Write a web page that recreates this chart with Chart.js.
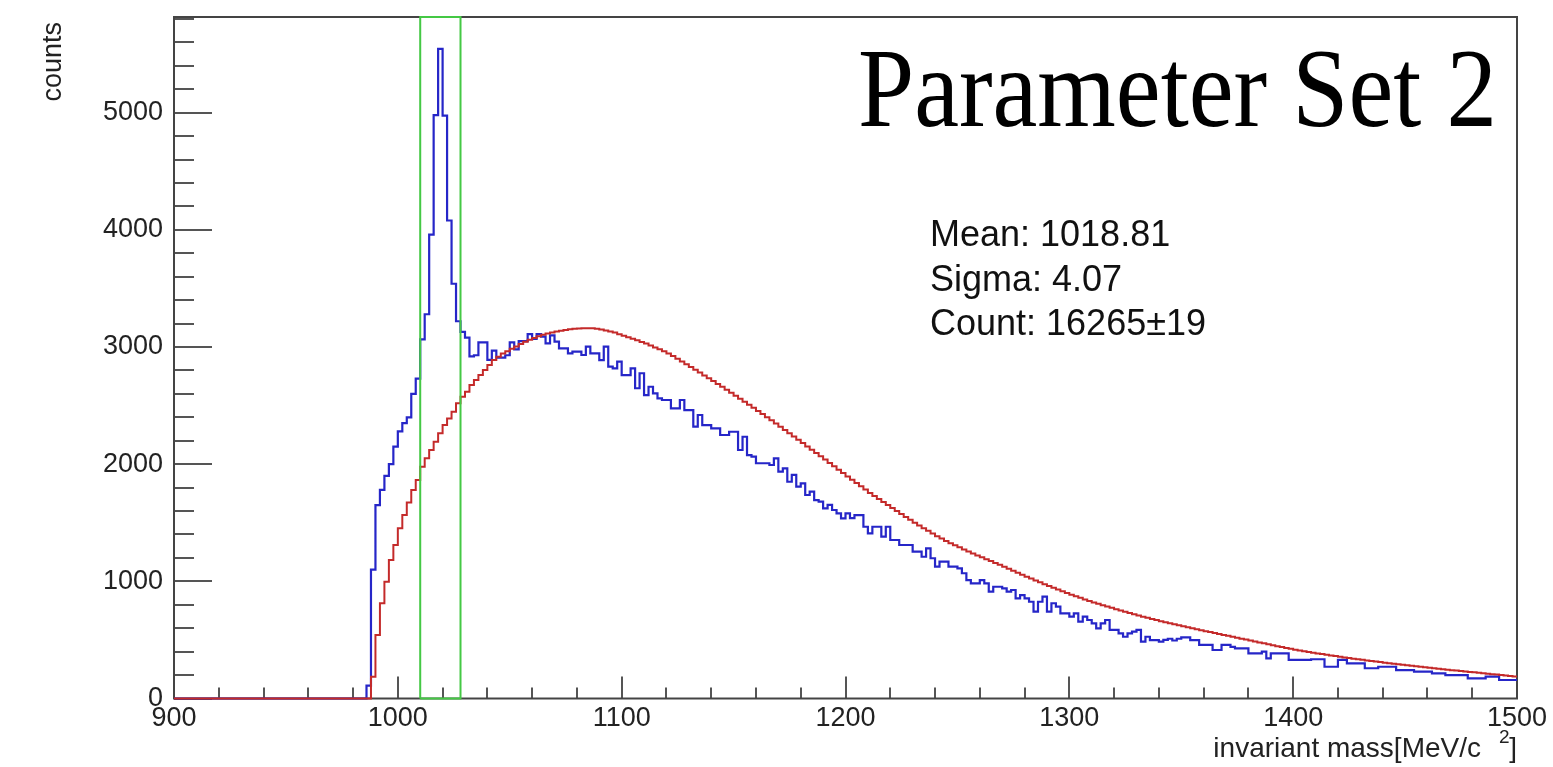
<!DOCTYPE html>
<html>
<head>
<meta charset="utf-8">
<script src="https://cdn.jsdelivr.net/npm/chart.js@4.4.1/dist/chart.umd.min.js"></script>
<style>
  html, body { margin: 0; padding: 0; background: #fff; }
  canvas { display: block; }
</style>
</head>
<body>
<canvas id="massChart" width="1553" height="767"></canvas>
<script>
// histogram bins: 2 MeV wide, first bin starts at 900
const binStart = 900;
const binWidth = 2;

// measured (blue) counts per bin, 10 bins per row
const measuredCounts = [
  0, 0, 0, 0, 0, 0, 0, 0, 0, 0,                          // 900
  0, 0, 0, 0, 0, 0, 0, 0, 0, 0,                          // 920
  0, 0, 0, 0, 0, 0, 0, 0, 0, 0,                          // 940
  0, 0, 0, 0, 0, 0, 0, 0, 0, 0,                          // 960
  0, 0, 0, 110, 1100, 1650, 1780, 1900, 2000, 2150,      // 980
  2280, 2350, 2400, 2600, 2730, 3065, 3280, 3960, 4980, 5545, // 1000
  4975, 4080, 3540, 3220, 3130, 3080, 2920, 2930, 3040, 3040, // 1020
  2890, 2970, 2910, 2910, 2930, 3040, 2980, 3050, 3050, 3110, // 1040
  3070, 3110, 3088, 3032, 3100, 3046, 2989, 2989, 2946, 2960, // 1060
  2960, 2932, 3003, 2946, 2946, 2889, 3003, 2832, 2818, 2875, // 1080
  2761, 2761, 2818, 2648, 2776, 2590, 2661, 2605, 2562, 2548, // 1100
  2548, 2477, 2477, 2548, 2462, 2462, 2320, 2420, 2334, 2334, // 1120
  2306, 2306, 2249, 2249, 2277, 2277, 2121, 2234, 2078, 2064, // 1140
  2008, 2008, 2008, 1993, 2050, 1936, 1965, 1850, 1908, 1808, // 1160
  1837, 1737, 1765, 1694, 1680, 1623, 1652, 1609, 1581, 1538, // 1180
  1581, 1540, 1566, 1566, 1466, 1410, 1466, 1466, 1381, 1466, // 1200
  1353, 1353, 1310, 1310, 1310, 1253, 1253, 1210, 1282, 1197, // 1220
  1125, 1168, 1168, 1125, 1125, 1111, 1069, 1011, 983, 983,   // 1240
  1011, 983, 912, 954, 954, 940, 912, 926, 855, 883,          // 1260
  855, 826, 741, 826, 869, 741, 813, 784, 727, 727,           // 1280
  698, 727, 656, 698, 670, 642, 599, 642, 670, 585,           // 1300
  585, 556, 527, 556, 570, 585, 485, 527, 499, 499,           // 1320
  485, 500, 510, 495, 510, 522, 522, 499, 499, 457,           // 1340
  457, 457, 414, 414, 457, 457, 440, 428, 428, 428,           // 1360
  386, 386, 386, 400, 343, 386, 386, 386, 386, 329,           // 1380
  329, 329, 329, 329, 335, 335, 335, 271, 271, 271,           // 1400
  329, 329, 300, 300, 300, 300, 258, 258, 258, 271,           // 1420
  271, 271, 271, 243, 243, 243, 243, 229, 229, 229,           // 1440
  229, 215, 215, 215, 200, 200, 200, 200, 200, 172,           // 1460
  172, 172, 172, 186, 186, 186, 158, 158, 158, 158            // 1480
];

// background (red) counts per bin
const backgroundCounts = [
  0, 0, 0, 0, 0, 0, 0, 0, 0, 0,                          // 900
  0, 0, 0, 0, 0, 0, 0, 0, 0, 0,                          // 920
  0, 0, 0, 0, 0, 0, 0, 0, 0, 0,                          // 940
  0, 0, 0, 0, 0, 0, 0, 0, 0, 0,                          // 960
  0, 0, 0, 0, 186, 542, 812, 997, 1182, 1310,            // 980
  1453, 1566, 1674, 1780, 1865, 1979, 2050, 2121, 2192, 2264, // 1000
  2334, 2391, 2448, 2520, 2576, 2619, 2676, 2719, 2761, 2804, // 1020
  2847, 2889, 2918, 2945, 2965, 2985, 3005, 3025, 3045, 3062, // 1040
  3078, 3092, 3104, 3115, 3125, 3133, 3140, 3146, 3151, 3155, // 1060
  3158, 3160, 3161, 3160, 3156, 3150, 3142, 3133, 3123, 3110, // 1080
  3097, 3083, 3070, 3057, 3044, 3030, 3014, 2997, 2980, 2963, // 1100
  2945, 2923, 2900, 2877, 2854, 2830, 2806, 2782, 2758, 2734, // 1120
  2710, 2685, 2660, 2635, 2610, 2585, 2559, 2533, 2507, 2481, // 1140
  2455, 2428, 2401, 2374, 2347, 2320, 2292, 2264, 2236, 2208, // 1160
  2180, 2152, 2124, 2096, 2068, 2040, 2011, 1982, 1953, 1924, // 1180
  1895, 1867, 1839, 1811, 1783, 1755, 1729, 1703, 1677, 1651, // 1200
  1625, 1600, 1575, 1550, 1525, 1500, 1477, 1454, 1431, 1408, // 1220
  1385, 1365, 1345, 1326, 1308, 1290, 1272, 1255, 1238, 1221, // 1240
  1205, 1189, 1173, 1157, 1141, 1125, 1108, 1091, 1074, 1057, // 1260
  1040, 1024, 1008, 992, 976, 960, 945, 930, 915, 900,        // 1280
  885, 872, 859, 846, 833, 820, 808, 797, 785, 774,           // 1300
  762, 751, 740, 729, 719, 708, 698, 689, 679, 670,           // 1320
  660, 651, 643, 634, 626, 617, 609, 600, 592, 583,           // 1340
  575, 567, 559, 551, 543, 535, 527, 519, 511, 503,           // 1360
  495, 487, 479, 471, 463, 455, 447, 439, 432, 424,           // 1380
  416, 410, 404, 397, 391, 385, 379, 373, 368, 362,           // 1400
  356, 351, 346, 340, 335, 330, 325, 320, 316, 311,           // 1420
  306, 301, 297, 292, 288, 283, 279, 275, 270, 266,           // 1440
  262, 258, 254, 250, 246, 242, 238, 234, 231, 227,           // 1460
  223, 219, 215, 212, 208, 204, 200, 196, 192, 188            // 1480
];

// signal window (green box)
const windowEdges = [1010, 1028];

// axes
const xMin = 900, xMax = 1500;
const yMin = 0, yMax = 5817;
const xTickLabels = [900, 1000, 1100, 1200, 1300, 1400, 1500];
const yTickLabels = [0, 1000, 2000, 3000, 4000, 5000];

const statLines = ['Mean: 1018.81', 'Sigma: 4.07', 'Count: 16265\u00b119'];
const plotTitle = 'Parameter Set 2';

function histPoints(counts) {
  const pts = counts.map((c, i) => ({ x: binStart + i * binWidth, y: c }));
  pts.push({ x: binStart + counts.length * binWidth, y: counts[counts.length - 1] });
  return pts;
}

const windowBox = [
  { x: windowEdges[0], y: yMin },
  { x: windowEdges[0], y: yMax },
  { x: windowEdges[1], y: yMax },
  { x: windowEdges[1], y: yMin },
  { x: windowEdges[0], y: yMin }
];

const sans = '"Liberation Sans", Arial, Helvetica, sans-serif';

// ROOT style frame + inner ticks, drawn under the histograms
const rootFrame = {
  id: 'rootFrame',
  beforeDatasetsDraw(chart) {
    const { ctx, chartArea: a, scales } = chart;
    const xs = scales.x, ys = scales.y;
    ctx.save();
    ctx.strokeStyle = '#555';
    ctx.lineWidth = 2;
    ctx.beginPath();
    for (let v = yMin; v <= yMax; v += 200) {
      const py = Math.round(ys.getPixelForValue(v));
      const len = v % 1000 === 0 ? 38 : 20;
      ctx.moveTo(a.left, py);
      ctx.lineTo(a.left + len, py);
    }
    for (let v = xMin; v <= xMax; v += 20) {
      const px = Math.round(xs.getPixelForValue(v));
      const len = v % 100 === 0 ? 22 : 11;
      ctx.moveTo(px, a.bottom);
      ctx.lineTo(px, a.bottom - len);
    }
    ctx.stroke();

    ctx.strokeStyle = '#444';
    ctx.strokeRect(a.left, a.top, a.right - a.left, a.bottom - a.top);
    ctx.restore();
  },
  afterDraw(chart) {
    const { ctx } = chart;
    ctx.save();

    // axis titles
    ctx.fillStyle = '#222';
    ctx.font = '28px ' + sans;
    ctx.textBaseline = 'alphabetic';
    ctx.textAlign = 'right';
    ctx.fillText('invariant mass[MeV/c', 1481, 757);
    ctx.fillText(']', 1517, 757);
    ctx.font = '19px ' + sans;
    ctx.textAlign = 'left';
    ctx.fillText('2', 1499, 743);

    ctx.save();
    ctx.translate(61, 22);
    ctx.rotate(-Math.PI / 2);
    ctx.font = '27px ' + sans;
    ctx.textAlign = 'right';
    ctx.fillText('counts', 0, 0);
    ctx.restore();

    // stat box text
    ctx.fillStyle = '#111';
    ctx.font = '36px ' + sans;
    ctx.textAlign = 'left';
    statLines.forEach((line, i) => ctx.fillText(line, 930, 246 + i * 44.5));

    // big title
    ctx.fillStyle = '#000';
    ctx.font = '113px "Liberation Serif", "Times New Roman", serif';
    const w = ctx.measureText(plotTitle).width;
    ctx.translate(858, 126);
    ctx.scale(639 / w, 1);
    ctx.fillText(plotTitle, 0, 0);

    ctx.restore();
  }
};

const plainLabel = v => String(v);

new Chart(document.getElementById('massChart'), {
  type: 'line',
  data: {
    datasets: [
      {
        label: 'window',
        data: windowBox,
        borderColor: '#44c844',
        borderWidth: 2,
        pointRadius: 0,
        fill: false,
        clip: false,
        order: 0
      },
      {
        label: 'background',
        data: histPoints(backgroundCounts),
        stepped: 'before',
        borderColor: '#c42a2a',
        borderWidth: 2,
        pointRadius: 0,
        fill: false,
        clip: false,
        order: 1
      },
      {
        label: 'measured',
        data: histPoints(measuredCounts),
        stepped: 'before',
        borderColor: '#2626c8',
        borderWidth: 2.2,
        pointRadius: 0,
        fill: false,
        clip: false,
        order: 2
      }
    ]
  },
  options: {
    responsive: false,
    devicePixelRatio: 1,
    animation: false,
    layout: { padding: { top: 17, right: 36, left: 0, bottom: 0 } },
    plugins: {
      legend: { display: false },
      tooltip: { enabled: false }
    },
    scales: {
      x: {
        type: 'linear',
        min: xMin,
        max: xMax,
        grid: { display: false, drawTicks: false },
        border: { display: false },
        ticks: {
          font: { family: sans, size: 27 },
          color: '#222',
          padding: 4,
          maxRotation: 0,
          autoSkip: false,
          callback: plainLabel
        },
        afterBuildTicks: s => { s.ticks = xTickLabels.map(v => ({ value: v })); },
        afterFit: s => { s.height = 68.5; s.paddingLeft = 0; s.paddingRight = 0; }
      },
      y: {
        type: 'linear',
        min: yMin,
        max: yMax,
        grid: { display: false, drawTicks: false },
        border: { display: false },
        ticks: {
          font: { family: sans, size: 27 },
          color: '#222',
          padding: 11,
          callback: plainLabel
        },
        afterBuildTicks: s => { s.ticks = yTickLabels.map(v => ({ value: v })); },
        afterFit: s => { s.width = 174; s.paddingTop = 0; s.paddingBottom = 0; }
      }
    }
  },
  plugins: [rootFrame]
});
</script>
</body>
</html>
